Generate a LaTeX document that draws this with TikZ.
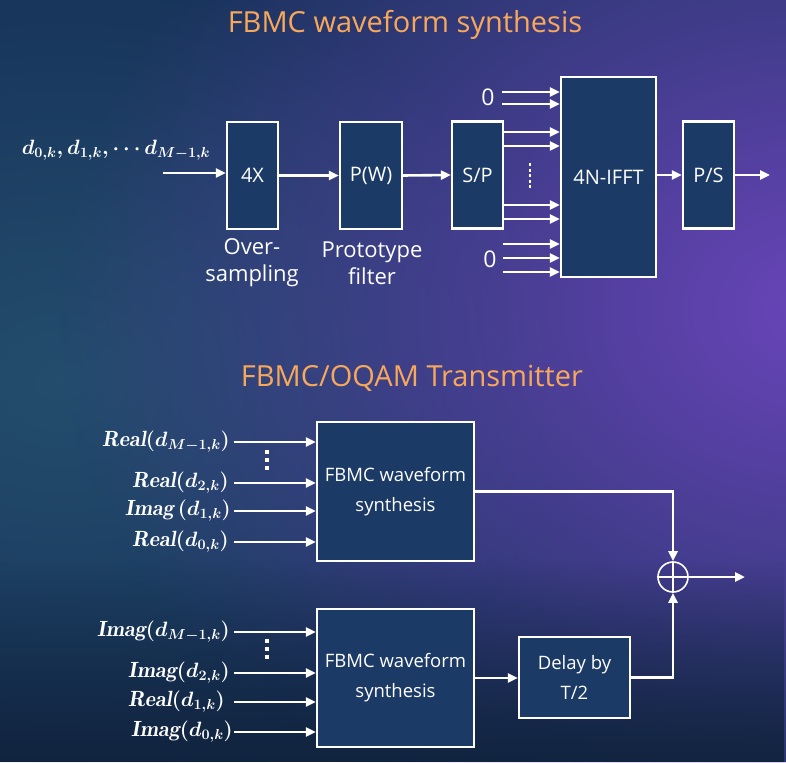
\documentclass[tikz,border=0pt]{standalone}
\usepackage{fontspec}
\newfontfamily\boxfont{Open Sans}
\usetikzlibrary{arrows.meta,fadings}

\definecolor{bgbase}{HTML}{17335A}
\definecolor{bgteal}{HTML}{25506F}
\definecolor{bgviolet}{HTML}{6A45BA}
\definecolor{bgdeep}{HTML}{11243F}
\definecolor{boxblue}{HTML}{1B3A66}
\definecolor{titleorange}{HTML}{F8A85A}

\tikzfading[name=softglow, inner color=transparent!0, outer color=transparent!100]
\tikzfading[name=fadeup, top color=transparent!100, bottom color=transparent!0]

\begin{document}
\begin{tikzpicture}[x=1pt,y=-1pt,
  blk/.style={draw=white, line width=2.2pt, fill=boxblue, text=white,
    font=\boxfont\fontsize{18.5}{30}\selectfont, inner sep=0pt, align=center},
  bigtext/.style={font=\boxfont\fontsize{20}{24}\selectfont},
  wire/.style={white, line width=2.6pt, -{Triangle[length=10pt,width=9pt]}},
  ttl/.style={text=titleorange, font=\boxfont\fontsize{29}{34}\selectfont},
  captext/.style={text=white, font=\boxfont\fontsize{22}{27}\selectfont, align=center},
  zero/.style={text=white, font=\boxfont\fontsize{23}{26}\selectfont},
  mlbl/.style={text=white, font=\fontsize{22}{26}\selectfont\boldmath, inner sep=0pt},
  dots/.style={white, line width=2.6pt, dash pattern=on 3pt off 2.6pt},
  vdots/.style={white, line width=3.4pt, dash pattern=on 4pt off 4pt}]

\useasboundingbox (0,0) rectangle (786,762);

% background
\begin{scope}
  \clip (0,0) rectangle (786,762);
  \fill[bgbase] (0,0) rectangle (786,762);
  \fill[bgteal, path fading=softglow, opacity=0.9] (60,380) ellipse (520pt and 420pt);
  \fill[bgviolet, path fading=softglow] (820,310) ellipse (760pt and 600pt);
  \fill[bgdeep, path fading=fadeup] (0,560) rectangle (786,762);
\end{scope}

% ---------- FBMC waveform synthesis ----------
\node[ttl] (t1) at (405,25) {FBMC waveform synthesis};

\node[mlbl, font=\fontsize{19.5}{24}\selectfont\boldmath] (din) at (116,150)
  {$d_{0,k}, d_{1,k}, \cdots d_{M-1,k}$};

\node[blk, bigtext, minimum width=51pt, minimum height=107pt] (ovs) at (252.5,175.5) {4X};
\node[blk, bigtext, minimum width=62pt, minimum height=107pt] (pw) at (371,175.5) {P(W)};
\node[blk, bigtext, minimum width=51pt, minimum height=107pt] (sp) at (477.5,175) {S/P};
\node[blk, bigtext, minimum width=95pt, minimum height=200pt] (ifft) at (608.5,177) {4N-IFFT};
\node[blk, bigtext, minimum width=51pt, minimum height=107pt] (ps) at (708.5,175) {P/S};

\node[captext] (ovscap) at (252,263) {Over-\\sampling};
\node[captext] (pwcap) at (372,263) {Prototype\\filter};

\coordinate (in0) at (163,173);
\coordinate (out0) at (770,175);
\draw[wire] (in0) -- (in0 -| ovs.west);
\draw[wire] (ovs.east) -- (pw.west);
\draw[wire] (pw.east) -- (sp.west);
\draw[wire] (ifft.east |- ps.west) -- (ps.west);
\draw[wire] (ps.east) -- (out0);

% parallel branches of the serial/parallel converter
\foreach \dy in {43,29,-30,-44}
  \draw[wire] ([yshift=\dy pt]sp.east) -- ([yshift=\dy pt]sp.east -| ifft.west);
\coordinate (spdA) at (530,163);
\coordinate (spdB) at (530,189);
\draw[dots] (spdA) -- (spdB);

% zero-padded inputs
\node[zero] (z1) at (488,97) {0};
\node[zero] (z2) at (490,259) {0};
\foreach \y [count=\i] in {92,104}
  \coordinate (za\i) at (502,\y);
\foreach \y [count=\i] in {244,258,272}
  \coordinate (zb\i) at (503,\y);
\foreach \c in {za1,za2,zb1,zb2,zb3}
  \draw[wire] (\c) -- (\c -| ifft.west);

% ---------- FBMC/OQAM Transmitter ----------
\node[ttl] (t2) at (412,378) {FBMC/OQAM Transmitter};

\node[blk, minimum width=157pt, minimum height=139pt] (f1) at (395.5,491.5) {FBMC waveform\\synthesis};
\node[blk, minimum width=157pt, minimum height=138pt] (f2) at (395.5,678) {FBMC waveform\\synthesis};
\node[blk, minimum width=111pt, minimum height=81pt] (dly) at (574.5,677.5) {Delay by\\T/2};
\node[circle, draw=white, line width=1.6pt, minimum size=30pt, inner sep=0pt] (sum) at (673,577) {};
\draw[white, line width=1.4pt] (sum.north) -- (sum.south) (sum.west) -- (sum.east);

% inputs of the upper branch
\node[mlbl, anchor=east] (u1) at (230,442) {$\mathit{Real}(d_{M-1,k})$};
\node[mlbl, anchor=east] (u2) at (229,483) {$\mathit{Real}(d_{2,k})$};
\node[mlbl, anchor=east] (u3) at (231,511) {$\mathit{Imag}\,(d_{1,k})$};
\node[mlbl, anchor=east] (u4) at (229,542) {$\mathit{Real}(d_{0,k})$};
\foreach \y [count=\i] in {442,483,511,542}
  \coordinate (ua\i) at (234,\y);
\foreach \i in {1,...,4}
  \draw[wire] (ua\i) -- (ua\i -| f1.west);
\coordinate (udA) at (267,450);
\coordinate (udB) at (267,470);
\draw[vdots] (udA) -- (udB);

% inputs of the lower branch
\node[mlbl, anchor=east] (l1) at (230,632) {$\mathit{Imag}(d_{M-1,k})$};
\node[mlbl, anchor=east] (l2) at (230,673) {$\mathit{Imag}(d_{2,k})$};
\node[mlbl, anchor=east] (l3) at (225,702) {$\mathit{Real}(d_{1,k})$};
\node[mlbl, anchor=east] (l4) at (233,732) {$\mathit{Imag}(d_{0,k})$};
\foreach \y [count=\i] in {632,673,702,732}
  \coordinate (la\i) at (234,\y);
\foreach \i in {1,...,4}
  \draw[wire] (la\i) -- (la\i -| f2.west);
\coordinate (ldA) at (267,639);
\coordinate (ldB) at (267,659);
\draw[vdots] (ldA) -- (ldB);

% combining
\coordinate (out1) at (745,577);
\draw[wire] (f1.east) -| (sum.north);
\draw[wire] (f2.east) -- (f2.east -| dly.west);
\draw[wire] (dly.east) -| (sum.south);
\draw[wire] (sum.east) -- (out1);
\end{tikzpicture}
\end{document}
